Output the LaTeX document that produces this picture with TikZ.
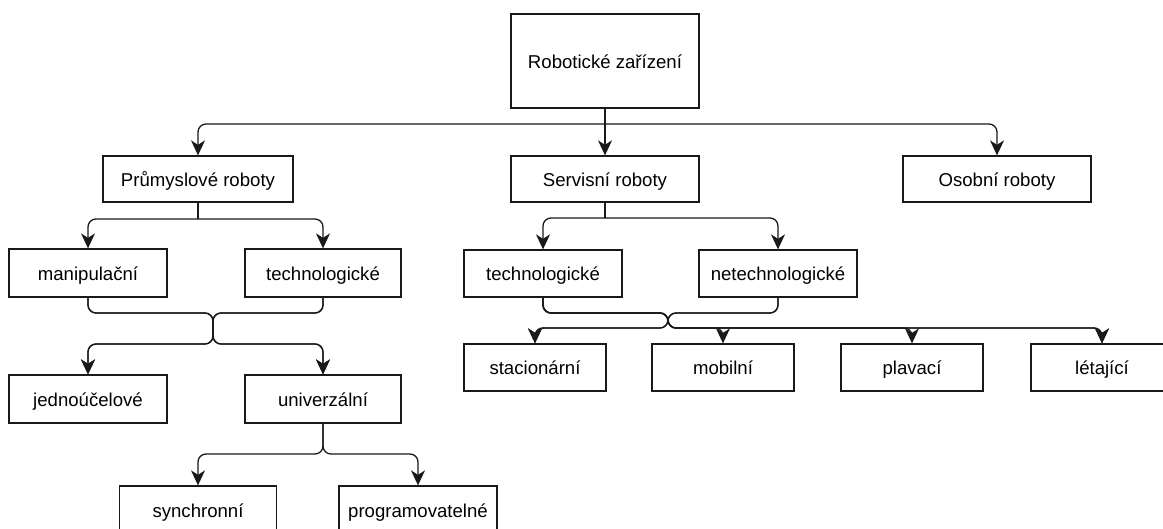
\documentclass[tikz,border=0pt]{standalone}
\usepackage{fontspec}
\setmainfont{Liberation Sans}
\usetikzlibrary{arrows.meta}
\begin{document}
\begin{tikzpicture}[x=1pt,y=-1pt,
  box/.style={draw=black!90,line width=1.3pt,fill=white,inner sep=0pt,minimum height=47pt,
    font=\fontsize{18.6}{22}\selectfont,text=black,text height=14pt,text depth=0pt},
  conn/.style={draw=black!90,line width=1.3pt,rounded corners=8pt},
  arr/.style={conn,-{Stealth[length=15pt,width=14pt,inset=4.5pt]}}]
\useasboundingbox (0,0) rectangle (1163,528);
\clip (0,0) rectangle (1163,528);
% nodes
\node[box,minimum width=188pt,minimum height=94pt] (root) at (605,61) {Robotické zařízení};
\node[box,minimum width=190pt,minimum height=46pt] (prum) at (198,179) {Průmyslové roboty};
\node[box,minimum width=188pt,minimum height=46pt] (serv) at (605,179) {Servisní roboty};
\node[box,minimum width=188pt,minimum height=46pt] (osob) at (997,179) {Osobní roboty};
\node[box,minimum width=158pt,minimum height=48pt] (manip) at (88,273) {manipulační};
\node[box,minimum width=156pt,minimum height=48pt] (techL) at (323,273) {technologické};
\node[box,minimum width=158pt] (techR) at (543,273.5) {technologické};
\node[box,minimum width=158pt] (netech) at (778,273.5) {netechnologické};
\node[box,minimum width=158pt,minimum height=48pt] (jedno) at (88,399) {jednoúčelové};
\node[box,minimum width=156pt,minimum height=48pt] (univ) at (323,399) {univerzální};
\node[box,minimum width=157pt,minimum height=48pt] (sync) at (198,510) {synchronní};
\node[box,minimum width=158pt,minimum height=48pt] (prog) at (418,510) {programovatelné};
\node[box,minimum width=142pt] (stac) at (535,367.5) {stacionární};
\node[box,minimum width=142pt] (mobil) at (723,367.5) {mobilní};
\node[box,minimum width=142pt] (plav) at (912,367.5) {plavací};
\node[box,minimum width=142pt] (leta) at (1102,367.5) {létající};
% junction points
\coordinate (jr) at (605,124);
\coordinate (jp) at (198,219);
\coordinate (js) at (605,218);
\coordinate (ml1) at (213,313);
\coordinate (ml2) at (213,344);
\coordinate (ju) at (323,454);
\coordinate (mr1) at (668,313);
\coordinate (mr2) at (668,328);
% root
\draw[conn] (root.south) -- (jr);
\draw[arr] (jr) -| (prum.north);
\draw[arr] (jr) -- (serv.north);
\draw[arr] (jr) -| (osob.north);
% prumyslove
\draw[conn] (prum.south) -- (jp);
\draw[arr] (jp) -| (manip.north);
\draw[arr] (jp) -| (techL.north);
% merge left
\draw[arr] (manip.south) |- (ml1) -- (ml2) -| (jedno.north);
\draw[arr] (manip.south) |- (ml1) -- (ml2) -| (univ.north);
\draw[arr] (techL.south) |- (ml1) -- (ml2) -| (jedno.north);
\draw[arr] (techL.south) |- (ml1) -- (ml2) -| (univ.north);
% univerzalni
\draw[arr] (univ.south) -- (ju) -| (sync.north);
\draw[arr] (univ.south) -- (ju) -| (prog.north);
% servisni
\draw[conn] (serv.south) -- (js);
\draw[arr] (js) -| (techR.north);
\draw[arr] (js) -| (netech.north);
% merge right
\draw[arr] (techR.south) |- (mr1) -- (mr2) -| (stac.north);
\draw[arr] (netech.south) |- (mr1) -- (mr2) -| (stac.north);
\draw[arr] (techR.south) |- (mr1) -- (mr2) -| (mobil.north);
\draw[arr] (techR.south) |- (mr1) -- (mr2) -| (plav.north);
\draw[arr] (techR.south) |- (mr1) -- (mr2) -| (leta.north);
\draw[arr] (netech.south) |- (mr1) -- (mr2) -| (leta.north);
\end{tikzpicture}
\end{document}
